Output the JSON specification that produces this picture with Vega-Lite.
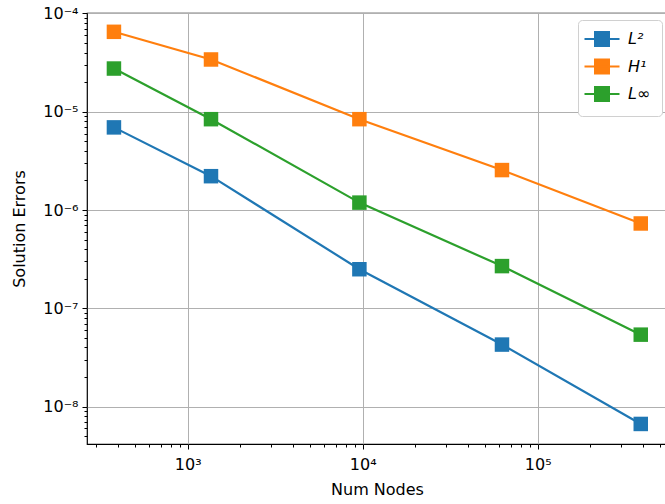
{
  "$schema": "https://vega.github.io/schema/vega-lite/v6.json",
  "width": 580,
  "height": 431,
  "autosize": "none",
  "padding": {"left": 87, "top": 13, "right": -2, "bottom": 60},
  "config": {
    "view": {"stroke": "black", "strokeWidth": 1.2},
    "font": "DejaVu Sans",
    "axis": {"domain": false}
  },
  "data": {
    "values": [
      {"nodes": 379, "err": 6.93e-6, "norm": "L²"},
      {"nodes": 1359, "err": 2.21e-6, "norm": "L²"},
      {"nodes": 9575, "err": 2.5e-7, "norm": "L²"},
      {"nodes": 62500, "err": 4.28e-8, "norm": "L²"},
      {"nodes": 388000, "err": 6.67e-9, "norm": "L²"},
      {"nodes": 379, "err": 6.5e-5, "norm": "H¹"},
      {"nodes": 1359, "err": 3.4e-5, "norm": "H¹"},
      {"nodes": 9575, "err": 8.4e-6, "norm": "H¹"},
      {"nodes": 62500, "err": 2.55e-6, "norm": "H¹"},
      {"nodes": 388000, "err": 7.3e-7, "norm": "H¹"},
      {"nodes": 379, "err": 2.75e-5, "norm": "L∞"},
      {"nodes": 1359, "err": 8.4e-6, "norm": "L∞"},
      {"nodes": 9575, "err": 1.19e-6, "norm": "L∞"},
      {"nodes": 62500, "err": 2.69e-7, "norm": "L∞"},
      {"nodes": 388000, "err": 5.4e-8, "norm": "L∞"}
    ]
  },
  "encoding": {
    "x": {
      "field": "nodes",
      "type": "quantitative",
      "scale": {"type": "log", "domain": [265.9, 548000], "nice": false},
      "axis": {
        "title": "Num Nodes",
        "titleFontSize": 16,
        "titleFontWeight": "normal",
        "titleColor": "black",
        "titlePadding": 9,
        "values": [300, 400, 500, 600, 700, 800, 900, 1000, 2000, 3000, 4000, 5000, 6000, 7000, 8000, 9000, 10000, 20000, 30000, 40000, 50000, 60000, 70000, 80000, 90000, 100000, 200000, 300000, 400000, 500000],
        "labelExpr": "abs(log(datum.value)/LN10 - round(log(datum.value)/LN10)) < 0.001 ? '10' + ['⁰','¹','²','³','⁴','⁵','⁶','⁷','⁸','⁹'][round(log(datum.value)/LN10)] : ''",
        "labelFontSize": 16,
        "labelColor": "black",
        "labelPadding": 7,
        "labelFlush": false,
        "labelOverlap": false,
        "tickColor": "black",
        "tickSize": {"condition": {"test": "abs(log(datum.value)/LN10 - round(log(datum.value)/LN10)) < 0.001", "value": 5}, "value": 3},
        "gridColor": "#b0b0b0",
        "gridWidth": 1,
        "gridOpacity": {"condition": {"test": "abs(log(datum.value)/LN10 - round(log(datum.value)/LN10)) < 0.001", "value": 1}, "value": 0}
      }
    },
    "y": {
      "field": "err",
      "type": "quantitative",
      "scale": {"type": "log", "domain": [4.17e-9, 1.01e-4], "nice": false},
      "axis": {
        "title": "Solution Errors",
        "titleFontSize": 16,
        "titleFontWeight": "normal",
        "titleColor": "black",
        "titlePadding": 15,
        "values": [5e-9, 6e-9, 7e-9, 8e-9, 9e-9, 1e-8, 2e-8, 3e-8, 4e-8, 5e-8, 6e-8, 7e-8, 8e-8, 9e-8, 1e-7, 2e-7, 3e-7, 4e-7, 5e-7, 6e-7, 7e-7, 8e-7, 9e-7, 1e-6, 2e-6, 3e-6, 4e-6, 5e-6, 6e-6, 7e-6, 8e-6, 9e-6, 1e-5, 2e-5, 3e-5, 4e-5, 5e-5, 6e-5, 7e-5, 8e-5, 9e-5, 1e-4],
        "labelExpr": "abs(log(datum.value)/LN10 - round(log(datum.value)/LN10)) < 0.001 ? '10⁻' + ['⁰','¹','²','³','⁴','⁵','⁶','⁷','⁸','⁹'][abs(round(log(datum.value)/LN10))] : ''",
        "labelFontSize": 16,
        "labelColor": "black",
        "labelPadding": 4,
        "labelFlush": false,
        "labelOverlap": false,
        "tickColor": "black",
        "tickSize": {"condition": {"test": "abs(log(datum.value)/LN10 - round(log(datum.value)/LN10)) < 0.001", "value": 5}, "value": 3},
        "gridColor": "#b0b0b0",
        "gridWidth": 1,
        "gridOpacity": {"condition": {"test": "abs(log(datum.value)/LN10 - round(log(datum.value)/LN10)) < 0.001", "value": 1}, "value": 0}
      }
    },
    "color": {
      "field": "norm",
      "type": "nominal",
      "scale": {"domain": ["L²", "H¹", "L∞"], "range": ["#1f77b4", "#ff7f0e", "#2ca02c"]},
      "legend": {
        "title": null,
        "orient": "none",
        "legendX": 491,
        "legendY": 7,
        "fillColor": "white",
        "strokeColor": "#d0d0d0",
        "cornerRadius": 4,
        "padding": 11,
        "symbolType": "M-2.5,0H2.5M-1,-1H1V1H-1Z",
        "symbolSize": 196,
        "symbolStrokeWidth": 2,
        "symbolOffset": 5,
        "labelOffset": 18,
        "labelFontSize": 16,
        "labelFontStyle": "italic",
        "labelColor": "black",
        "rowPadding": 5.5,
        "encode": {
          "symbols": {
            "update": {
              "fill": {"scale": "color", "field": "value"},
              "stroke": {"scale": "color", "field": "value"},
              "opacity": {"value": 1}
            }
          }
        }
      }
    }
  },
  "layer": [
    {"mark": {"type": "line", "strokeWidth": 2.2}},
    {"mark": {"type": "point", "shape": "square", "filled": true, "size": 210, "opacity": 1}}
  ]
}
